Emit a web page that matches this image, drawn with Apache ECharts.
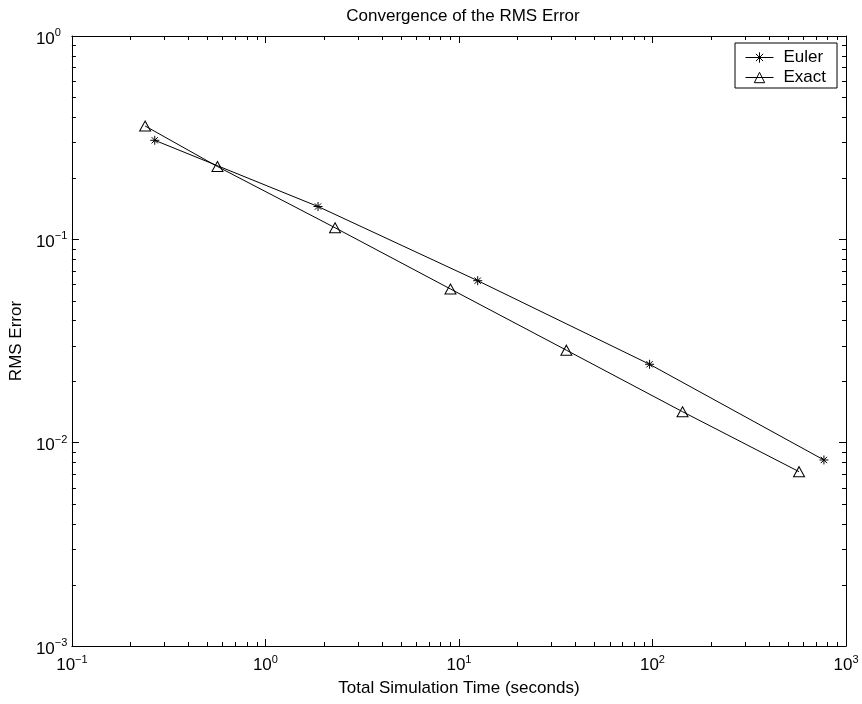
<!DOCTYPE html>
<html><head><meta charset="utf-8">
<script src="https://cdn.jsdelivr.net/npm/echarts@6/dist/echarts.min.js"></script>
<style>html,body{margin:0;padding:0;background:#fff}#c{width:862px;height:704px}</style>
</head><body><div id="c"></div>
<script>
// Data
const eulerTime  = [0.268, 1.87, 12.5, 96.6, 769];
const eulerError = [0.307, 0.145, 0.0626, 0.0243, 0.00822];
const exactTime  = [0.239, 0.565, 2.29, 9.04, 35.9, 143, 572];
const exactError = [0.361, 0.228, 0.114, 0.057, 0.0285, 0.0142, 0.0072];

// Axis tick values
const xMinorTicks = [0.2,0.3,0.4,0.5,0.6,0.7,0.8,0.9, 2,3,4,5,6,7,8,9, 20,30,40,50,60,70,80,90, 200,300,400,500,600,700,800,900];
const yMinorTicks = [0.002,0.003,0.004,0.005,0.006,0.007,0.008,0.009, 0.02,0.03,0.04,0.05,0.06,0.07,0.08,0.09, 0.2,0.3,0.4,0.5,0.6,0.7,0.8,0.9];

const FONT = '"Liberation Sans", Arial, Helvetica, sans-serif';
const FS = 17;

function powLabel(v){
  const e = Math.round(Math.log10(v));
  return '{b|10}{s|' + (e < 0 ? '\u2212' + (-e) : String(e)) + '}';
}
const rich = {
  b: {fontSize: FS, fontFamily: FONT, color: '#000', lineHeight: 17, padding: [6,0,0,0]},
  s: {fontSize: 11, fontFamily: FONT, color: '#000', lineHeight: 12, verticalAlign: 'top'}
};

const axisCommon = {
  type: 'log', logBase: 10,
  axisLine: {show: true, lineStyle: {color: '#000', width: 1}},
  axisTick: {show: true, inside: true, length: 7, lineStyle: {color: '#000', width: 1}},
  splitLine: {show: false},
  minorTick: {show: false},
  minorSplitLine: {show: false}
};

const asterisk = 'path://M5,0L5,10M0,5L10,5M1.5,1.5L8.5,8.5M1.5,8.5L8.5,1.5';

const chart = echarts.init(document.getElementById('c'), null, {renderer: 'canvas'});

function minorTickRender(isX){
  return function(params, api){
    const cs = params.coordSys;
    const p = api.coord([api.value(0), api.value(1)]);
    const L = 4;
    const style = {stroke: '#000', lineWidth: 1};
    if (isX) {
      const x = Math.round(p[0]) + 0.5;
      return {type: 'group', children: [
        {type: 'line', shape: {x1: x, y1: cs.y + cs.height, x2: x, y2: cs.y + cs.height - L}, style},
        {type: 'line', shape: {x1: x, y1: cs.y, x2: x, y2: cs.y + L}, style}
      ]};
    } else {
      const y = Math.round(p[1]) + 0.5;
      return {type: 'group', children: [
        {type: 'line', shape: {x1: cs.x, y1: y, x2: cs.x + L, y2: y}, style},
        {type: 'line', shape: {x1: cs.x + cs.width, y1: y, x2: cs.x + cs.width - L, y2: y}, style}
      ]};
    }
  };
}

chart.setOption({
  animation: false,
  backgroundColor: '#fff',
  textStyle: {fontFamily: FONT},
  title: {
    text: 'Convergence of the RMS Error',
    left: 458, top: 3, textAlign: 'center',
    textStyle: {fontSize: FS, fontWeight: 'normal', color: '#000', fontFamily: FONT}
  },
  grid: {left: 71, right: 16, top: 36, bottom: 58, containLabel: false},
  legend: {
    data: ['Euler', 'Exact'],
    orient: 'vertical',
    left: 735, top: 43,
    itemWidth: 28, itemHeight: 13, itemGap: 3,
    padding: [6, 11, 2, 10],
    borderColor: '#000', borderWidth: 1, backgroundColor: '#fff',
    lineStyle: {width: 1, color: '#000'},
    itemStyle: {color: 'rgba(0,0,0,0)', borderColor: '#000', borderWidth: 1},
    textStyle: {fontSize: FS, color: '#000', fontFamily: FONT, padding: [0,0,0,5]},
    selectedMode: false
  },
  xAxis: [
    Object.assign({}, axisCommon, {
      min: 0.1, max: 1000, splitNumber: 4, position: 'bottom',
      name: 'Total Simulation Time (seconds)', nameLocation: 'middle', nameGap: 34,
      nameTextStyle: {fontSize: FS, color: '#000', fontFamily: FONT},
      axisLabel: {show: true, margin: 8, formatter: powLabel, rich: rich, color: '#000'}
    }),
    Object.assign({}, axisCommon, {
      min: 0.1, max: 1000, splitNumber: 4, position: 'top',
      axisLabel: {show: false}
    })
  ],
  yAxis: [
    Object.assign({}, axisCommon, {
      min: 0.001, max: 1, splitNumber: 3, position: 'left',
      name: 'RMS Error', nameLocation: 'middle', nameGap: 31,
      nameTextStyle: {fontSize: FS, color: '#000', fontFamily: FONT},
      axisLabel: {show: true, margin: 36, align: 'left', formatter: powLabel, rich: rich, color: '#000'}
    }),
    Object.assign({}, axisCommon, {
      min: 0.001, max: 1, splitNumber: 3, position: 'right',
      axisLabel: {show: false}
    })
  ],
  series: [
    {
      name: 'Euler', type: 'line', xAxisIndex: 0, yAxisIndex: 0,
      data: eulerTime.map((t, i) => [t, eulerError[i]]),
      symbol: asterisk, symbolSize: 9, showSymbol: true,
      lineStyle: {color: '#000', width: 1},
      itemStyle: {color: 'rgba(0,0,0,0)', borderColor: '#000', borderWidth: 1},
      emphasis: {disabled: true}, z: 3
    },
    {
      name: 'Exact', type: 'line', xAxisIndex: 0, yAxisIndex: 0,
      data: exactTime.map((t, i) => [t, exactError[i]]),
      symbol: 'triangle', symbolSize: [11, 10], showSymbol: true,
      lineStyle: {color: '#000', width: 1},
      itemStyle: {color: 'rgba(0,0,0,0)', borderColor: '#000', borderWidth: 1},
      emphasis: {disabled: true}, z: 3
    },
    {
      type: 'custom', xAxisIndex: 0, yAxisIndex: 0, silent: true, clip: false,
      data: xMinorTicks.map(v => [v, 0.01]),
      renderItem: minorTickRender(true), z: 1
    },
    {
      type: 'custom', xAxisIndex: 0, yAxisIndex: 0, silent: true, clip: false,
      data: yMinorTicks.map(v => [1, v]),
      renderItem: minorTickRender(false), z: 1
    }
  ]
});
</script>
</body></html>
